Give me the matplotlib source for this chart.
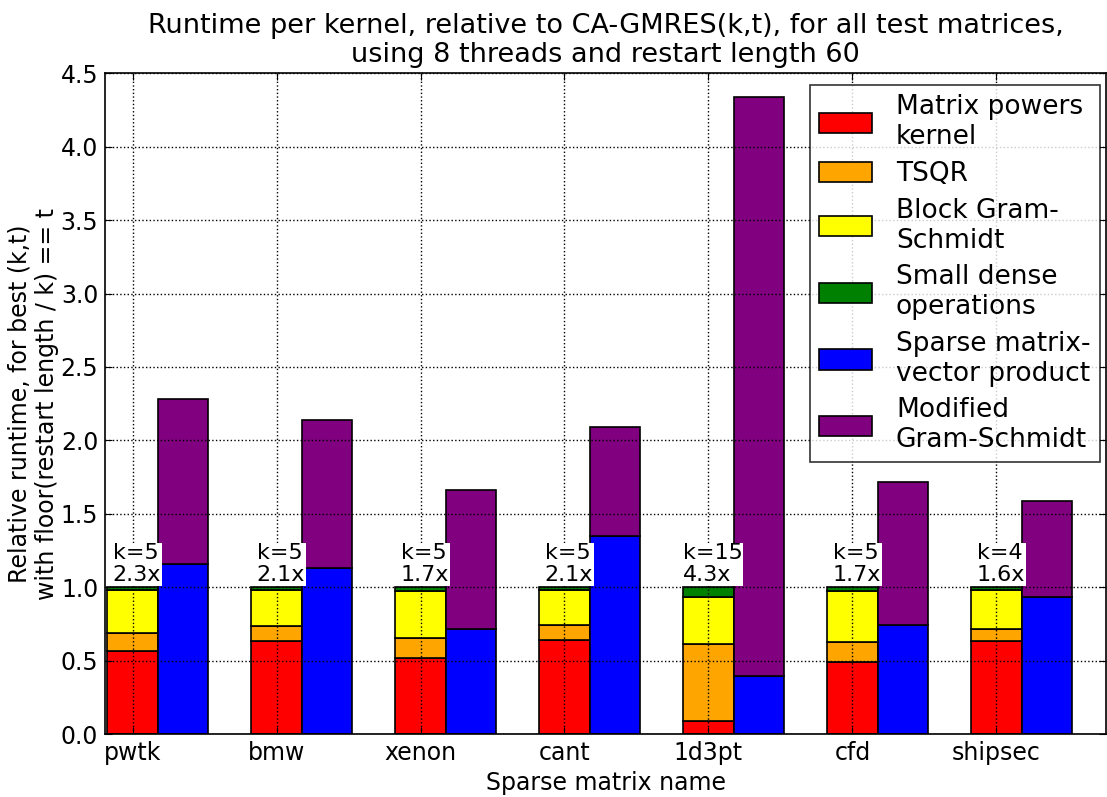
import numpy as np
import matplotlib
matplotlib.use("Agg")
import matplotlib.pyplot as plt

params = {
    "font.family": "DejaVu Sans",
    "font.size": 17,
    "axes.labelsize": 17,
    "xtick.labelsize": 17,
    "ytick.labelsize": 17,
    "xtick.direction": "in",
    "ytick.direction": "in",
    "xtick.top": True,
    "ytick.right": True,
    "xtick.major.size": 5,
    "ytick.major.size": 5,
    "xtick.major.pad": 5,
    "ytick.major.pad": 5,
    "axes.linewidth": 1.2,
}
plt.rcParams.update(params)

matrices = ["pwtk", "bmw", "xenon", "cant", "1d3pt", "cfd", "shipsec"]
best_k = [5, 5, 5, 5, 15, 5, 4]

# CA-GMRES(k,t) kernels, normalised so each stack sums to 1
mpk = [0.567, 0.637, 0.517, 0.642, 0.086, 0.490, 0.633]
tsqr = [0.123, 0.096, 0.134, 0.099, 0.528, 0.136, 0.079]
bgs = [0.288, 0.245, 0.324, 0.239, 0.320, 0.347, 0.272]
small_dense = [0.022, 0.022, 0.025, 0.020, 0.066, 0.027, 0.016]

# standard GMRES kernels, same normalisation
spmv = [1.160, 1.130, 0.714, 1.347, 0.392, 0.744, 0.934]
mgs = [1.125, 1.006, 0.946, 0.741, 3.948, 0.970, 0.651]

x = np.arange(len(matrices))
w = 0.35

fig = plt.figure(figsize=(11.07, 7.97), dpi=100)
ax = fig.add_axes([0.095, 0.079, 0.904, 0.829])

ca_parts = [(mpk, "red", "Matrix powers\nkernel"),
            (tsqr, "orange", "TSQR"),
            (bgs, "yellow", "Block Gram-\nSchmidt"),
            (small_dense, "green", "Small dense\noperations")]
bottom = np.zeros(len(x))
for vals, col, lab in ca_parts:
    ax.bar(x, vals, w, bottom=bottom, color=col, edgecolor="black",
           linewidth=1.2, label=lab)
    bottom += np.array(vals)
ca_total = bottom.copy()

ax.bar(x + w, spmv, w, color="blue", edgecolor="black", linewidth=1.2,
       label="Sparse matrix-\nvector product")
ax.bar(x + w, mgs, w, bottom=spmv, color="purple", edgecolor="black",
       linewidth=1.2, label="Modified\nGram-Schmidt")
gmres_total = np.array(spmv) + np.array(mgs)

for i in range(len(x)):
    ax.text(x[i] + 0.03, ca_total[i] + 0.015,
            "k=%d\n%.1fx" % (best_k[i], gmres_total[i] / ca_total[i]),
            ha="center", va="bottom", multialignment="left", fontsize=16,
            linespacing=1.1,
            bbox=dict(facecolor="white", edgecolor="none", pad=0.5),
            zorder=4)

ax.set_xlim(-0.19, 6.76)
ax.set_ylim(0, 4.5)
ax.set_xticks(x)
ax.set_xticklabels(matrices)
ax.set_yticks(np.arange(0, 4.51, 0.5))
ax.set_yticklabels(["%.1f" % v for v in np.arange(0, 4.51, 0.5)])
ax.set_axisbelow(False)
ax.grid(True, color="black", linestyle=":", linewidth=1.0)

ax.set_xlabel("Sparse matrix name", labelpad=4)
ax.set_ylabel("Relative runtime, for best (k,t)\nwith floor(restart length / k) == t",
              labelpad=1)
ax.set_title("Runtime per kernel, relative to CA-GMRES(k,t), for all test matrices,\n"
             "using 8 threads and restart length 60", fontsize=19.5, pad=8,
             linespacing=1.15)

leg = ax.legend(loc="upper right", bbox_to_anchor=(0.999, 0.99), fontsize=19,
                fancybox=False, handlelength=2.0, handleheight=0.8,
                labelspacing=0.4, borderaxespad=0.2, borderpad=0.35,
                handletextpad=0.9)
leg.get_frame().set_edgecolor("black")
leg.get_frame().set_linewidth(1.2)
leg.set_zorder(5)

fig.savefig("out.png", dpi=100)
